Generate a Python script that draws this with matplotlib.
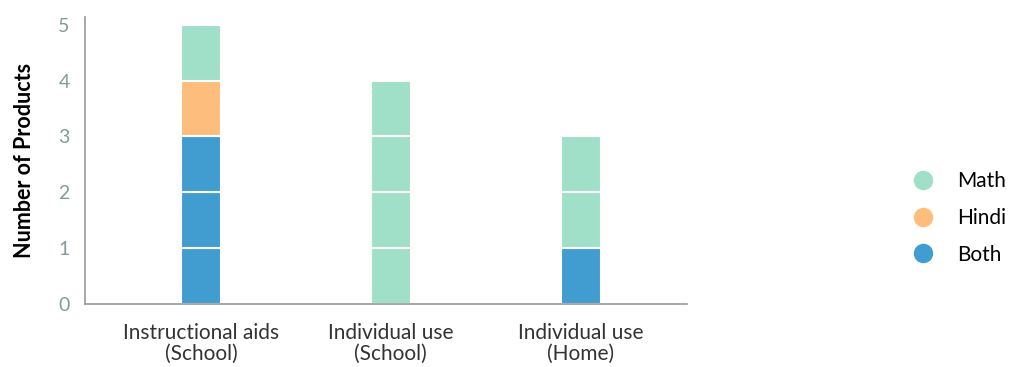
import matplotlib.pyplot as plt
from matplotlib.lines import Line2D

#----- Data -----
categories = ["Instructional aids\n(School)", "Individual use\n(School)", "Individual use\n(Home)"]
series_names = ["Both", "Hindi", "Math"]  # stacking order, bottom to top
both = [3, 0, 1]
hindi = [1, 0, 0]
math = [1, 4, 2]
colors = {"Math": "#a0dfc8", "Hindi": "#fdbe7d", "Both": "#419ccf"}

#----- Plot -----
plt.rcParams.update({"font.family": ["Lato", "DejaVu Sans"]})
fig = plt.figure(figsize=(10.17, 3.67), dpi=100)
ax = fig.add_axes([0.0836, 0.1717, 0.592, 0.782])

values = {"Both": both, "Hindi": hindi, "Math": math}
for i in range(len(categories)):
    bottom = 0
    for name in series_names:
        for k in range(values[name][i]):
            ax.bar(i, 1, bottom=bottom, width=0.21, color=colors[name],
                   edgecolor="white", linewidth=1.5)
            bottom += 1

ax.set_xlim(-0.61, 2.56)
ax.set_ylim(0, 5.14)
ax.set_xticks(range(len(categories)))
ax.set_xticklabels(categories, fontsize=15, color="#333333", linespacing=1.05)
ax.set_yticks(range(6))
ax.tick_params(axis="y", length=0, labelsize=14, labelcolor="#869a9a", pad=11)
ax.tick_params(axis="x", length=0, pad=14)
ax.set_ylabel("Number of Products", fontsize=15.5, fontweight="bold", labelpad=17)
for s in ["top", "right"]:
    ax.spines[s].set_visible(False)
for s in ["left", "bottom"]:
    ax.spines[s].set_color("#999999")
    ax.spines[s].set_linewidth(1.2)

handles = [Line2D([], [], marker="o", linestyle="", markersize=13,
                  color=colors[n]) for n in ["Math", "Hindi", "Both"]]
fig.legend(handles, ["Math", "Hindi", "Both"], loc="center left",
           bbox_to_anchor=(0.869, 0.406), frameon=False, fontsize=15,
           handletextpad=0.6, labelspacing=0.8)

plt.savefig("out.png")
